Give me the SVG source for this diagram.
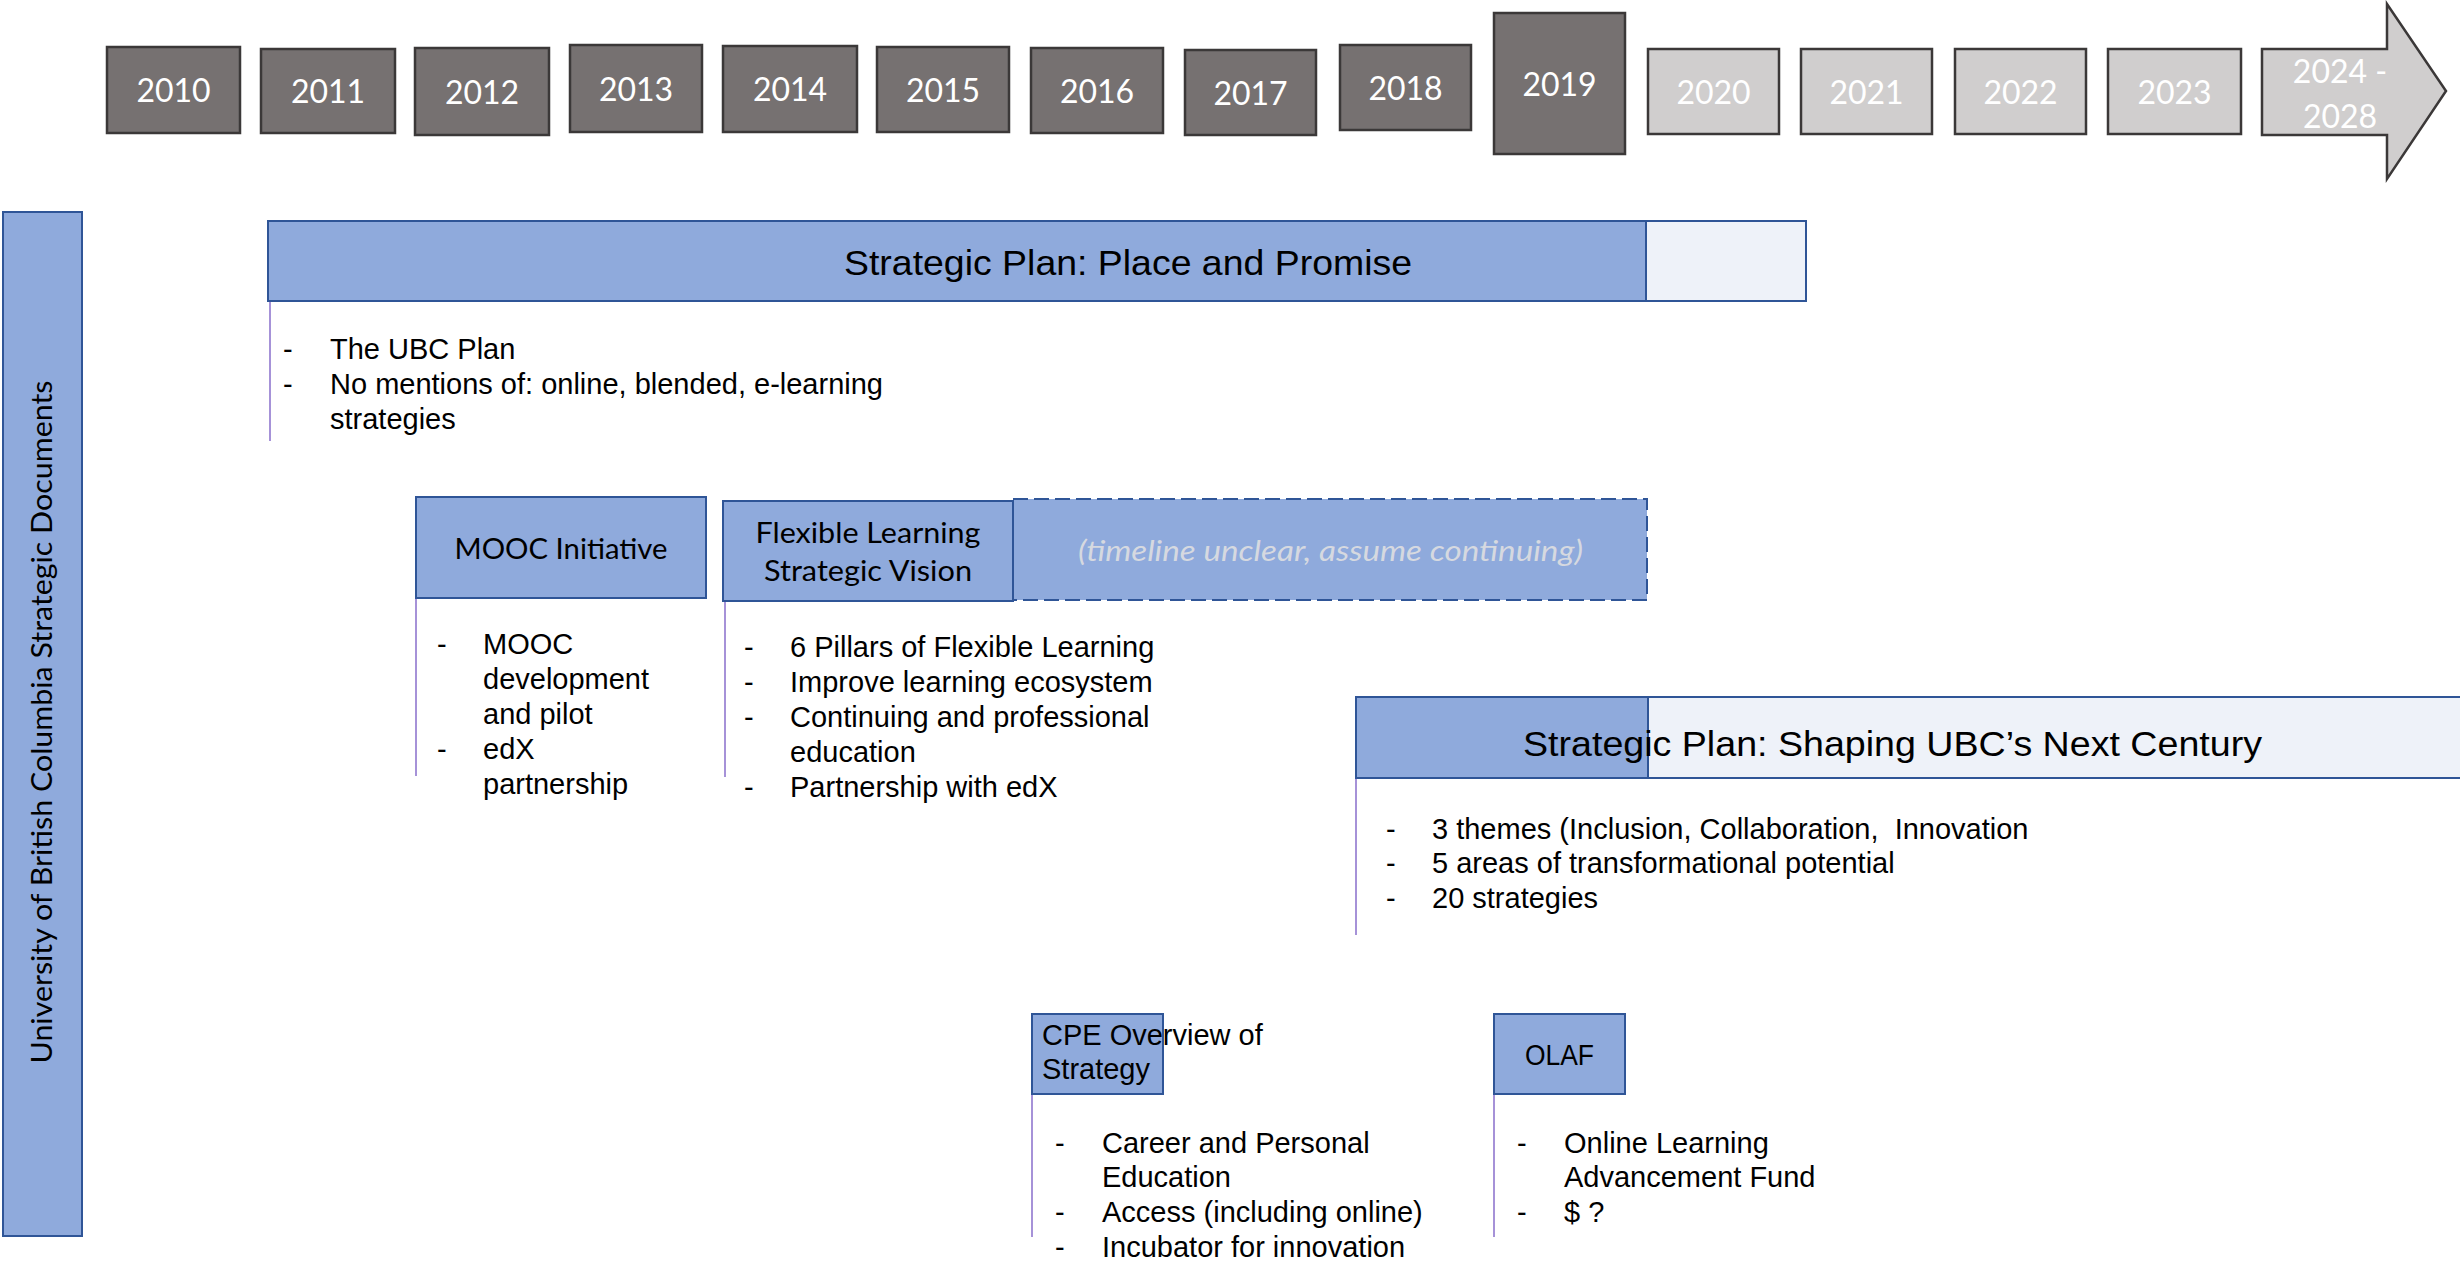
<svg xmlns="http://www.w3.org/2000/svg" width="2460" height="1279" viewBox="0 0 2460 1279">
<style>
.yr{fill:#767171;stroke:#3b3838;stroke-width:2.5}
.yl{fill:#d0cece;stroke:#3b3838;stroke-width:2.5}
.yt{font-family:Lato,"Open Sans",sans-serif;font-size:32px;fill:#ffffff;text-anchor:middle}
.bb{fill:#8faadc;stroke:#2f5597;stroke-width:2}
.lb{fill:#eef2f9;stroke:#2f5597;stroke-width:2}
.ttl{font-family:"Liberation Sans",Arial,sans-serif;font-size:35px;fill:#000}
.cal{font-family:Lato,"Open Sans",sans-serif;font-size:28px;fill:#000}
.li{font-family:"Liberation Sans",Arial,sans-serif;font-size:29px;fill:#000}
.pl{stroke:#8064c8;stroke-width:1.4;fill:none}
</style>
<rect width="2460" height="1279" fill="#ffffff"/>
<g id="timeline">
<rect class="yr" x="107" y="47" width="133" height="86"/><text class="yt" x="173.5" y="102">2010</text>
<rect class="yr" x="261" y="49" width="134" height="84"/><text class="yt" x="328" y="103">2011</text>
<rect class="yr" x="415" y="48" width="134" height="87"/><text class="yt" x="482" y="103.5">2012</text>
<rect class="yr" x="570" y="45" width="132" height="87"/><text class="yt" x="636" y="100.5">2013</text>
<rect class="yr" x="723" y="46" width="134" height="86"/><text class="yt" x="790" y="101">2014</text>
<rect class="yr" x="877" y="47" width="132" height="85"/><text class="yt" x="943" y="101.5">2015</text>
<rect class="yr" x="1031" y="48" width="132" height="85"/><text class="yt" x="1097" y="102.5">2016</text>
<rect class="yr" x="1185" y="50" width="131" height="85"/><text class="yt" x="1250.5" y="104.5">2017</text>
<rect class="yr" x="1340" y="45" width="131" height="85"/><text class="yt" x="1405.5" y="99.5">2018</text>
<rect class="yr" x="1494" y="13" width="131" height="141"/><text class="yt" x="1559.5" y="95.5">2019</text>
<rect class="yl" x="1648" y="49" width="131" height="85"/><text class="yt" x="1713.5" y="103.5">2020</text>
<rect class="yl" x="1801" y="49" width="131" height="85"/><text class="yt" x="1866.5" y="103.5">2021</text>
<rect class="yl" x="1955" y="49" width="131" height="85"/><text class="yt" x="2020.5" y="103.5">2022</text>
<rect class="yl" x="2108" y="49" width="133" height="85"/><text class="yt" x="2174.5" y="103.5">2023</text>
<polygon class="yl" points="2262,49 2387,49 2387,4 2446,91 2387,179 2387,135 2262,135"/>
<text class="yt" x="2340" y="82.5">2024 -</text>
<text class="yt" x="2340" y="128">2028</text>
</g>
<g id="side-label">
<rect class="bb" x="3" y="212" width="79" height="1024"/>
<text class="cal" transform="translate(52,722) rotate(-90)" text-anchor="middle" textLength="683" lengthAdjust="spacingAndGlyphs">University of British Columbia Strategic Documents</text>
</g>
<g id="place-and-promise">
<rect class="bb" x="268" y="221" width="1378" height="80"/>
<rect class="lb" x="1646" y="221" width="160" height="80"/>
<text class="ttl" x="844" y="274.5" textLength="568" lengthAdjust="spacingAndGlyphs">Strategic Plan: Place and Promise</text>
<line class="pl" x1="270" y1="302" x2="270" y2="441"/>
<text class="li" x="283" y="358.5">-</text><text class="li" x="330" y="358.5">The UBC Plan</text>
<text class="li" x="283" y="393.5">-</text><text class="li" x="330" y="393.5">No mentions of: online, blended, e-learning</text>
<text class="li" x="330" y="428.5">strategies</text>
</g>
<g id="mooc-initiative">
<rect class="bb" x="416" y="497" width="290" height="101"/>
<text class="cal" x="561" y="559" text-anchor="middle" textLength="213" lengthAdjust="spacingAndGlyphs">MOOC Initiative</text>
<line class="pl" x1="416" y1="599" x2="416" y2="776"/>
<text class="li" x="437" y="653.5">-</text><text class="li" x="483" y="653.5">MOOC</text>
<text class="li" x="483" y="688.5">development</text>
<text class="li" x="483" y="723.5">and pilot</text>
<text class="li" x="437" y="758.5">-</text><text class="li" x="483" y="758.5">edX</text>
<text class="li" x="483" y="793.5">partnership</text>
</g>
<g id="flexible-learning">
<rect class="bb" x="1013" y="499" width="634" height="101" stroke-dasharray="15 6" stroke-width="2.5"/>
<rect class="bb" x="723" y="501" width="290" height="100"/>
<text class="cal" x="868" y="543" text-anchor="middle" textLength="225" lengthAdjust="spacingAndGlyphs">Flexible Learning</text>
<text class="cal" x="868" y="581" text-anchor="middle" textLength="208" lengthAdjust="spacingAndGlyphs">Strategic Vision</text>
<text class="cal" x="1078" y="561" font-style="italic" style="fill:#d6d9e0" textLength="505" lengthAdjust="spacingAndGlyphs">(timeline unclear, assume continuing)</text>
<line class="pl" x1="725" y1="602" x2="725" y2="777"/>
<text class="li" x="744" y="656.5">-</text><text class="li" x="790" y="656.5">6 Pillars of Flexible Learning</text>
<text class="li" x="744" y="691.5">-</text><text class="li" x="790" y="691.5">Improve learning ecosystem</text>
<text class="li" x="744" y="726.5">-</text><text class="li" x="790" y="726.5">Continuing and professional</text>
<text class="li" x="790" y="761.5">education</text>
<text class="li" x="744" y="796.5">-</text><text class="li" x="790" y="796.5">Partnership with edX</text>
</g>
<g id="shaping-next-century">
<rect class="lb" x="1648" y="697" width="830" height="81"/>
<rect class="bb" x="1356" y="697" width="292" height="81"/>
<text class="ttl" x="1523" y="755.5" textLength="739" lengthAdjust="spacingAndGlyphs">Strategic Plan: Shaping UBC’s Next Century</text>
<line class="pl" x1="1356" y1="779" x2="1356" y2="935"/>
<text class="li" x="1386" y="838.5">-</text><text class="li" x="1432" y="838.5" xml:space="preserve">3 themes (Inclusion, Collaboration,  Innovation</text>
<text class="li" x="1386" y="872.5">-</text><text class="li" x="1432" y="872.5">5 areas of transformational potential</text>
<text class="li" x="1386" y="907.5">-</text><text class="li" x="1432" y="907.5">20 strategies</text>
</g>
<g id="cpe-overview">
<rect class="bb" x="1032" y="1014" width="131" height="80"/>
<text class="li" x="1042" y="1045">CPE Overview of</text>
<text class="li" x="1042" y="1079">Strategy</text>
<line class="pl" x1="1032" y1="1095" x2="1032" y2="1237"/>
<text class="li" x="1055" y="1152.5">-</text><text class="li" x="1102" y="1152.5">Career and Personal</text>
<text class="li" x="1102" y="1186.5">Education</text>
<text class="li" x="1055" y="1221.5">-</text><text class="li" x="1102" y="1221.5">Access (including online)</text>
<text class="li" x="1055" y="1256.5">-</text><text class="li" x="1102" y="1256.5">Incubator for innovation</text>
</g>
<g id="olaf">
<rect class="bb" x="1494" y="1014" width="131" height="80"/>
<text class="li" x="1559.5" y="1065" text-anchor="middle" textLength="69" lengthAdjust="spacingAndGlyphs">OLAF</text>
<line class="pl" x1="1494" y1="1095" x2="1494" y2="1237"/>
<text class="li" x="1517" y="1152.5">-</text><text class="li" x="1564" y="1152.5">Online Learning</text>
<text class="li" x="1564" y="1186.5">Advancement Fund</text>
<text class="li" x="1517" y="1221.5">-</text><text class="li" x="1564" y="1221.5">$ ?</text>
</g>
<g id="connectors"></g>
</svg>
